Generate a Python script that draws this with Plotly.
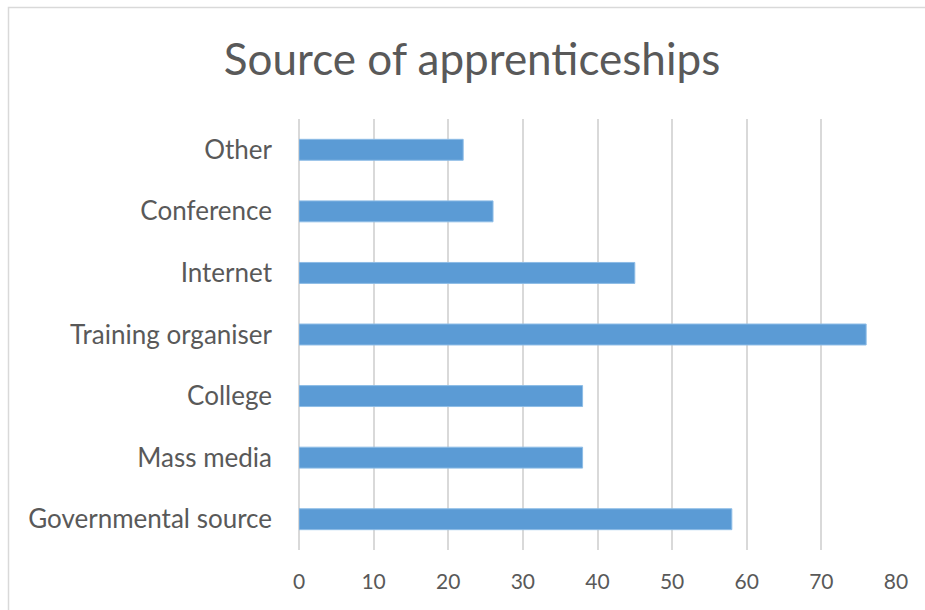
import plotly.graph_objects as go

# Sources, listed bottom to top as they appear on the category axis
categories = [
    "Governmental source",
    "Mass media",
    "College",
    "Training organiser",
    "Internet",
    "Conference",
    "Other",
]
counts = [58, 38, 38, 76, 45, 26, 22]
x_ticks = [0, 10, 20, 30, 40, 50, 60, 70, 80]

W, H = 925, 610
L, R, T, B = 299, 29, 119, 60
plot_w = W - L - R
plot_h = H - T - B

FONT = "Lato, Open Sans, sans-serif"
GREY = "#595959"

fig = go.Figure(
    go.Bar(
        x=counts,
        y=categories,
        orientation="h",
        width=0.34,
        marker=dict(color="#5B9BD5", line=dict(color="#8DBCE6", width=1)),
    )
)


def px_to_paper(px, py):
    return (px - L) / plot_w, (H - B - py) / plot_h


# light frame around the whole chart (top and left edges visible)
x0, y0 = px_to_paper(8.5, 7.5)
x1, y1 = px_to_paper(W + 20, H + 20)
fig.add_shape(
    type="rect", xref="paper", yref="paper",
    x0=x0, y0=y1, x1=x1, y1=y0,
    line=dict(color="#D9D9D9", width=1.5),
    fillcolor="rgba(0,0,0,0)", layer="below",
)

fig.update_layout(
    width=W,
    height=H,
    margin=dict(l=L, r=R, t=T, b=B),
    paper_bgcolor="white",
    plot_bgcolor="white",
    showlegend=False,
    title=dict(
        text="Source of apprenticeships",
        x=472 / W, xref="container", xanchor="center",
        y=1 - 60 / H, yref="container", yanchor="middle",
        font=dict(family=FONT, size=44, color=GREY),
    ),
    xaxis=dict(
        range=[0, 80],
        tickvals=x_ticks,
        showgrid=True,
        gridcolor="#D9D9D9",
        gridwidth=1.5,
        zeroline=True,
        zerolinecolor="#D9D9D9",
        zerolinewidth=1.5,
        showline=False,
        ticks="",
        ticklabelstandoff=17,
        tickfont=dict(family=FONT, size=21, color=GREY),
    ),
    yaxis=dict(
        range=[-0.5, 6.5],
        showgrid=False,
        zeroline=False,
        showline=False,
        ticks="",
        ticklabelstandoff=26,
        tickfont=dict(family=FONT, size=26, color=GREY),
    ),
)

fig.write_html("out.html")
